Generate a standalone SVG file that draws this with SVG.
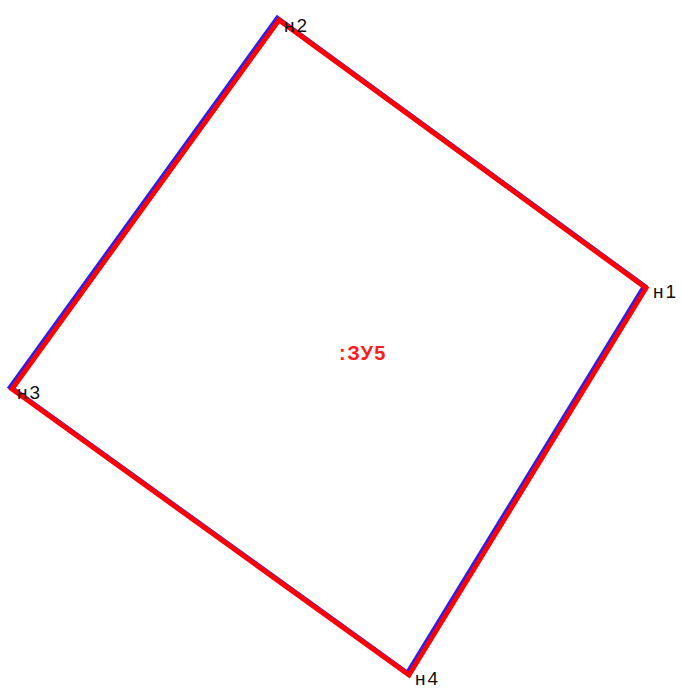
<svg xmlns="http://www.w3.org/2000/svg" width="682" height="689" viewBox="0 0 682 689">
<style>
.lbl{font-family:"Liberation Sans",Arial,sans-serif;font-size:19px;letter-spacing:2px;fill:#111}
.blue{fill:none;stroke:#2020ff;stroke-width:5;stroke-linejoin:miter}
.red{fill:none;stroke:#ff0000;stroke-width:5;stroke-linejoin:miter}
.title{font-family:"Liberation Sans",Arial,sans-serif;font-size:20px;font-weight:bold;letter-spacing:1.5px;fill:#ff1a1a}
</style>
<rect width="682" height="689" fill="#ffffff"/>
<g id="connectors">
<polygon class="blue" points="279,20 646,288 409,675 12,389" transform="translate(-1.6,-1.8)"/>
<polygon class="red" points="279,20 646,288 409,675 12,389"/>
</g>
<g id="n2"><text class="lbl" x="284" y="32">н2</text></g>
<g id="n1"><text class="lbl" x="653" y="298">н1</text></g>
<g id="n3"><text class="lbl" x="17" y="399">н3</text></g>
<g id="n4"><text class="lbl" x="415" y="685">н4</text></g>
<g id="zu5"><text class="title" x="363" y="360" text-anchor="middle">:ЗУ5</text></g>
</svg>
